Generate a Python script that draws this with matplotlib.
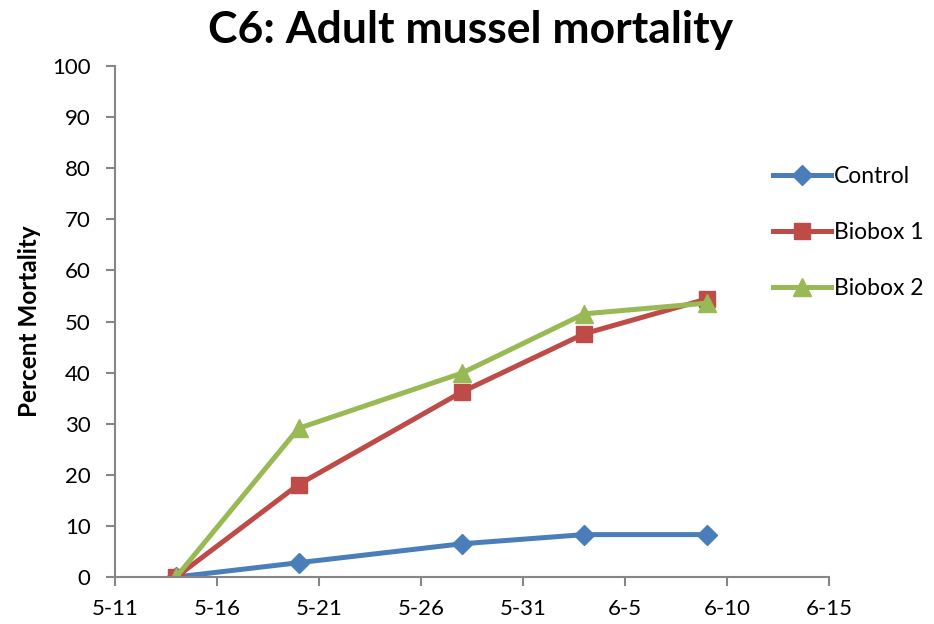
import datetime as dt
import matplotlib
matplotlib.use("Agg")
import matplotlib.pyplot as plt
import matplotlib.dates as mdates
from matplotlib.ticker import FuncFormatter, MultipleLocator, FixedLocator

# data
dates = [dt.date(2013, 5, 14), dt.date(2013, 5, 20), dt.date(2013, 5, 28),
         dt.date(2013, 6, 3), dt.date(2013, 6, 9)]
control = [0, 2.8, 6.5, 8.3, 8.3]
biobox1 = [0, 18.1, 36.2, 47.6, 54.4]
biobox2 = [0, 29.1, 39.9, 51.5, 53.6]

x_start = dt.date(2013, 5, 11)
x_end = dt.date(2013, 6, 15)
tick_dates = [x_start + dt.timedelta(days=5 * i) for i in range(8)]

plt.rcParams['font.family'] = ['Lato', 'DejaVu Sans']

fig = plt.figure(figsize=(9.34, 6.24), dpi=100)
ax = fig.add_axes([0.1231, 0.0753, 0.7645, 0.8189])

ax.plot(dates, control, color='#4A7EBB', lw=3.6, marker='D', ms=10,
        label='Control')
ax.plot(dates, biobox1, color='#BE4B48', lw=3.6, marker='s', ms=12,
        label='Biobox 1')
ax.plot(dates, biobox2, color='#98B954', lw=3.6, marker='^', ms=13,
        label='Biobox 2')

ax.set_ylim(0, 100)
ax.yaxis.set_major_locator(MultipleLocator(10))
ax.set_xlim(mdates.date2num(x_start), mdates.date2num(x_end))
ax.xaxis.set_major_locator(FixedLocator(mdates.date2num(tick_dates)))

def fmt_date(v, pos):
    d = mdates.num2date(v)
    return f"{d.month}-{d.day}"

ax.xaxis.set_major_formatter(FuncFormatter(fmt_date))

for s in ['top', 'right']:
    ax.spines[s].set_visible(False)
for s in ['left', 'bottom']:
    ax.spines[s].set_color('#868686')
    ax.spines[s].set_linewidth(1.5)
ax.tick_params(axis='both', colors='#868686', length=6.5, width=1.5,
               labelsize=16, labelcolor='black')
ax.tick_params(axis='y', pad=11)
ax.tick_params(axis='x', pad=9)

ax.set_ylabel('Percent Mortality', fontsize=17.5, fontweight='bold', labelpad=8)
fig.suptitle('C6: Adult mussel mortality', fontsize=32, fontweight='bold',
             x=0.504, y=0.984)

fig.legend(loc='upper left', bbox_to_anchor=(0.806, 0.767), frameon=False,
           fontsize=16.5, labelspacing=1.53, handlelength=2.5, handletextpad=0.15)

fig.savefig('out.png', dpi=100)
